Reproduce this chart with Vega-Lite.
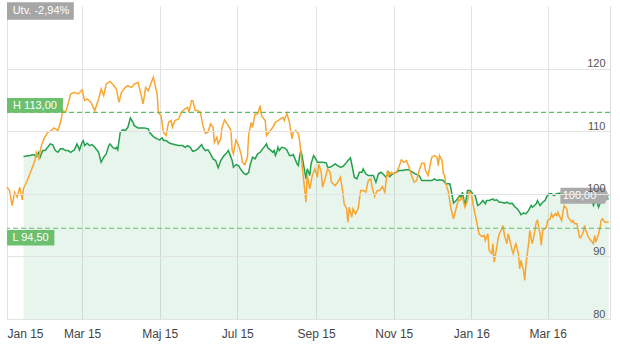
{
  "$schema": "https://vega.github.io/schema/vega-lite/v6.json",
  "width": 603,
  "height": 313,
  "autosize": {"type": "none"},
  "padding": {"left": 7, "top": 6, "right": 10, "bottom": 31},
  "background": "white",
  "config": {"font": "Liberation Sans", "view": {"stroke": null}},
  "datasets": {
    "index": [
      {"d":"2015-01-01","v":101.05},{"d":"2015-01-03","v":100.53},{"d":"2015-01-05","v":98.13},{"d":"2015-01-07","v":100.26},{"d":"2015-01-09","v":99.46},{"d":"2015-01-11","v":101.05},{"d":"2015-01-13","v":99.04},{"d":"2015-01-14","v":100.85},{"d":"2015-01-17","v":102.12},{"d":"2015-01-20","v":103.72},{"d":"2015-01-23","v":105.31},{"d":"2015-01-24","v":106.63},{"d":"2015-01-26","v":105.63},{"d":"2015-01-28","v":107.70},{"d":"2015-01-30","v":108.77},
      {"d":"2015-02-02","v":109.82},{"d":"2015-02-05","v":110.10},{"d":"2015-02-07","v":110.53},{"d":"2015-02-10","v":110.10},{"d":"2015-02-12","v":111.42},{"d":"2015-02-14","v":113.29},{"d":"2015-02-16","v":113.01},{"d":"2015-02-18","v":114.35},{"d":"2015-02-20","v":115.95},{"d":"2015-02-23","v":116.20},{"d":"2015-02-26","v":115.95},
      {"d":"2015-03-01","v":116.59},{"d":"2015-03-03","v":114.88},{"d":"2015-03-05","v":115.15},{"d":"2015-03-08","v":114.61},{"d":"2015-03-11","v":113.29},{"d":"2015-03-14","v":115.15},{"d":"2015-03-16","v":116.75},{"d":"2015-03-18","v":115.68},{"d":"2015-03-20","v":117.54},{"d":"2015-03-23","v":117.96},{"d":"2015-03-26","v":117.27},{"d":"2015-03-28","v":116.75},{"d":"2015-03-30","v":114.61},
      {"d":"2015-04-01","v":116.20},{"d":"2015-04-04","v":117.00},{"d":"2015-04-06","v":117.27},{"d":"2015-04-09","v":117.00},{"d":"2015-04-11","v":117.54},{"d":"2015-04-14","v":117.80},{"d":"2015-04-15","v":117.00},{"d":"2015-04-18","v":114.35},{"d":"2015-04-20","v":117.00},{"d":"2015-04-22","v":116.47},{"d":"2015-04-25","v":118.07},{"d":"2015-04-26","v":118.63},{"d":"2015-04-29","v":115.95},{"d":"2015-04-30","v":112.97},
      {"d":"2015-05-02","v":112.49},{"d":"2015-05-04","v":109.82},{"d":"2015-05-06","v":109.30},{"d":"2015-05-08","v":111.42},{"d":"2015-05-10","v":111.69},{"d":"2015-05-11","v":110.62},{"d":"2015-05-13","v":111.69},{"d":"2015-05-16","v":111.96},{"d":"2015-05-18","v":113.01},{"d":"2015-05-21","v":113.56},{"d":"2015-05-23","v":113.81},{"d":"2015-05-24","v":113.01},{"d":"2015-05-26","v":114.88},{"d":"2015-05-27","v":114.88},{"d":"2015-05-29","v":113.29},{"d":"2015-05-31","v":113.29},
      {"d":"2015-06-02","v":113.01},{"d":"2015-06-04","v":110.89},{"d":"2015-06-06","v":109.67},{"d":"2015-06-08","v":109.82},{"d":"2015-06-10","v":111.16},{"d":"2015-06-12","v":110.62},{"d":"2015-06-13","v":108.23},{"d":"2015-06-15","v":109.03},{"d":"2015-06-16","v":107.97},{"d":"2015-06-18","v":108.77},{"d":"2015-06-19","v":110.62},{"d":"2015-06-21","v":111.80},{"d":"2015-06-23","v":111.16},{"d":"2015-06-24","v":110.89},{"d":"2015-06-26","v":110.10},{"d":"2015-06-27","v":106.91},{"d":"2015-06-28","v":106.38},{"d":"2015-06-30","v":108.61},
      {"d":"2015-07-02","v":107.70},{"d":"2015-07-04","v":106.38},{"d":"2015-07-05","v":105.04},{"d":"2015-07-07","v":104.67},{"d":"2015-07-09","v":105.84},{"d":"2015-07-10","v":109.57},{"d":"2015-07-12","v":111.42},{"d":"2015-07-13","v":110.62},{"d":"2015-07-15","v":112.76},{"d":"2015-07-17","v":112.76},{"d":"2015-07-19","v":114.08},{"d":"2015-07-20","v":112.49},{"d":"2015-07-23","v":111.69},{"d":"2015-07-24","v":109.30},{"d":"2015-07-27","v":110.10},{"d":"2015-07-29","v":110.62},{"d":"2015-07-31","v":111.42},
      {"d":"2015-08-02","v":111.69},{"d":"2015-08-04","v":111.96},{"d":"2015-08-06","v":112.22},{"d":"2015-08-07","v":111.69},{"d":"2015-08-09","v":112.85},{"d":"2015-08-11","v":111.42},{"d":"2015-08-13","v":108.77},{"d":"2015-08-14","v":109.82},{"d":"2015-08-16","v":110.10},{"d":"2015-08-18","v":109.57},{"d":"2015-08-19","v":108.50},{"d":"2015-08-20","v":106.50},{"d":"2015-08-21","v":104.50},{"d":"2015-08-24","v":98.66},{"d":"2015-08-25","v":103.00},{"d":"2015-08-27","v":100.80},{"d":"2015-08-29","v":102.92},{"d":"2015-08-31","v":103.99},
      {"d":"2015-09-02","v":102.65},{"d":"2015-09-03","v":104.78},{"d":"2015-09-05","v":103.44},{"d":"2015-09-06","v":101.05},{"d":"2015-09-08","v":102.39},{"d":"2015-09-10","v":103.99},{"d":"2015-09-12","v":103.44},{"d":"2015-09-13","v":101.85},{"d":"2015-09-16","v":101.32},{"d":"2015-09-18","v":101.85},{"d":"2015-09-20","v":102.65},{"d":"2015-09-22","v":100.26},{"d":"2015-09-23","v":98.41},{"d":"2015-09-25","v":97.61},{"d":"2015-09-26","v":95.47},{"d":"2015-09-27","v":97.86},{"d":"2015-09-29","v":96.27},{"d":"2015-09-30","v":97.61},
      {"d":"2015-10-02","v":96.81},{"d":"2015-10-04","v":97.61},{"d":"2015-10-06","v":100.53},{"d":"2015-10-08","v":100.53},{"d":"2015-10-10","v":100.26},{"d":"2015-10-12","v":102.12},{"d":"2015-10-14","v":102.39},{"d":"2015-10-15","v":101.05},{"d":"2015-10-17","v":99.57},{"d":"2015-10-19","v":100.53},{"d":"2015-10-21","v":100.53},{"d":"2015-10-23","v":101.16},{"d":"2015-10-25","v":100.26},{"d":"2015-10-27","v":103.72},{"d":"2015-10-28","v":102.92},{"d":"2015-10-30","v":103.44},
      {"d":"2015-11-01","v":103.19},{"d":"2015-11-03","v":103.44},{"d":"2015-11-05","v":104.24},{"d":"2015-11-07","v":105.42},{"d":"2015-11-09","v":105.04},{"d":"2015-11-11","v":105.31},{"d":"2015-11-13","v":104.24},{"d":"2015-11-15","v":102.92},{"d":"2015-11-17","v":101.85},{"d":"2015-11-19","v":102.12},{"d":"2015-11-21","v":103.72},{"d":"2015-11-23","v":104.88},{"d":"2015-11-25","v":104.88},{"d":"2015-11-26","v":103.72},{"d":"2015-11-28","v":102.92},{"d":"2015-11-30","v":105.04},
      {"d":"2015-12-01","v":105.84},{"d":"2015-12-03","v":106.11},{"d":"2015-12-05","v":105.84},{"d":"2015-12-06","v":104.51},{"d":"2015-12-07","v":106.11},{"d":"2015-12-09","v":105.31},{"d":"2015-12-10","v":103.19},{"d":"2015-12-11","v":102.92},{"d":"2015-12-12","v":101.59},{"d":"2015-12-14","v":100.26},{"d":"2015-12-15","v":98.93},{"d":"2015-12-16","v":97.61},{"d":"2015-12-18","v":96.01},{"d":"2015-12-20","v":97.61},{"d":"2015-12-22","v":99.20},{"d":"2015-12-23","v":98.93},{"d":"2015-12-25","v":99.46},{"d":"2015-12-27","v":97.86},{"d":"2015-12-29","v":98.93},{"d":"2015-12-30","v":100.26},
      {"d":"2016-01-01","v":100.00},{"d":"2016-01-03","v":97.61},{"d":"2016-01-05","v":95.74},{"d":"2016-01-07","v":93.62},{"d":"2016-01-09","v":93.19},{"d":"2016-01-11","v":93.35},{"d":"2016-01-12","v":92.55},{"d":"2016-01-14","v":93.62},{"d":"2016-01-15","v":90.96},{"d":"2016-01-17","v":90.43},{"d":"2016-01-18","v":92.03},{"d":"2016-01-19","v":89.09},{"d":"2016-01-21","v":91.48},{"d":"2016-01-22","v":92.82},{"d":"2016-01-23","v":93.62},{"d":"2016-01-25","v":94.42},{"d":"2016-01-26","v":94.94},{"d":"2016-01-27","v":93.35},{"d":"2016-01-29","v":92.03},{"d":"2016-01-30","v":93.62},{"d":"2016-01-31","v":92.82},
      {"d":"2016-02-02","v":90.96},{"d":"2016-02-03","v":90.43},{"d":"2016-02-04","v":91.48},{"d":"2016-02-05","v":92.03},{"d":"2016-02-07","v":90.43},{"d":"2016-02-08","v":88.04},{"d":"2016-02-09","v":89.36},{"d":"2016-02-11","v":87.77},{"d":"2016-02-12","v":86.17},{"d":"2016-02-13","v":88.84},{"d":"2016-02-15","v":92.03},{"d":"2016-02-16","v":94.15},{"d":"2016-02-17","v":92.82},{"d":"2016-02-18","v":92.03},{"d":"2016-02-20","v":94.15},{"d":"2016-02-21","v":95.47},{"d":"2016-02-22","v":95.74},{"d":"2016-02-24","v":93.62},{"d":"2016-02-25","v":91.75},{"d":"2016-02-26","v":94.15},{"d":"2016-02-28","v":94.42},{"d":"2016-02-29","v":94.67},
      {"d":"2016-03-01","v":95.74},{"d":"2016-03-03","v":96.01},{"d":"2016-03-04","v":96.81},{"d":"2016-03-05","v":96.27},{"d":"2016-03-07","v":96.81},{"d":"2016-03-08","v":96.54},{"d":"2016-03-09","v":97.07},{"d":"2016-03-10","v":96.54},{"d":"2016-03-12","v":95.74},{"d":"2016-03-13","v":97.07},{"d":"2016-03-14","v":98.13},{"d":"2016-03-16","v":97.61},{"d":"2016-03-17","v":96.27},{"d":"2016-03-18","v":96.01},{"d":"2016-03-20","v":95.47},{"d":"2016-03-21","v":95.74},{"d":"2016-03-22","v":95.22},{"d":"2016-03-24","v":95.22},{"d":"2016-03-25","v":94.15},{"d":"2016-03-26","v":93.08},{"d":"2016-03-27","v":92.98},{"d":"2016-03-29","v":93.88},{"d":"2016-03-30","v":94.94},{"d":"2016-03-31","v":94.15},
      {"d":"2016-04-02","v":93.08},{"d":"2016-04-03","v":92.82},{"d":"2016-04-04","v":92.55},{"d":"2016-04-06","v":92.03},{"d":"2016-04-07","v":93.35},{"d":"2016-04-08","v":92.28},{"d":"2016-04-10","v":93.62},{"d":"2016-04-11","v":94.42},{"d":"2016-04-12","v":95.74},{"d":"2016-04-13","v":96.01},{"d":"2016-04-15","v":95.47},{"d":"2016-04-16","v":95.47},{"d":"2016-04-18","v":95.47}
    ],
    "fund": [
      {"d":"2015-01-14","v":105.95},{"d":"2015-01-19","v":106.11},{"d":"2015-01-22","v":106.27},{"d":"2015-01-24","v":105.95},{"d":"2015-01-26","v":106.63},{"d":"2015-01-27","v":105.84},{"d":"2015-01-29","v":106.91},{"d":"2015-01-31","v":106.91},
      {"d":"2015-02-02","v":107.43},{"d":"2015-02-04","v":107.97},{"d":"2015-02-06","v":107.81},{"d":"2015-02-08","v":106.91},{"d":"2015-02-10","v":106.63},{"d":"2015-02-12","v":107.18},{"d":"2015-02-14","v":107.18},{"d":"2015-02-16","v":106.91},{"d":"2015-02-18","v":106.91},{"d":"2015-02-20","v":106.63},{"d":"2015-02-22","v":106.91},{"d":"2015-02-23","v":107.02},{"d":"2015-02-25","v":107.97},{"d":"2015-02-27","v":107.02},
      {"d":"2015-03-01","v":108.23},{"d":"2015-03-02","v":108.50},{"d":"2015-03-03","v":107.70},{"d":"2015-03-05","v":108.07},{"d":"2015-03-07","v":107.70},{"d":"2015-03-09","v":107.86},{"d":"2015-03-11","v":107.43},{"d":"2015-03-13","v":106.91},{"d":"2015-03-14","v":106.63},{"d":"2015-03-16","v":105.04},{"d":"2015-03-18","v":105.84},{"d":"2015-03-20","v":106.38},{"d":"2015-03-22","v":107.70},{"d":"2015-03-23","v":107.97},{"d":"2015-03-25","v":107.43},{"d":"2015-03-27","v":107.18},{"d":"2015-03-28","v":107.43},{"d":"2015-03-29","v":107.02},{"d":"2015-03-31","v":109.82},
      {"d":"2015-04-02","v":110.21},{"d":"2015-04-04","v":110.10},{"d":"2015-04-06","v":110.62},{"d":"2015-04-08","v":112.12},{"d":"2015-04-10","v":111.42},{"d":"2015-04-11","v":110.89},{"d":"2015-04-14","v":110.53},{"d":"2015-04-17","v":110.53},{"d":"2015-04-19","v":110.53},{"d":"2015-04-22","v":110.37},{"d":"2015-04-23","v":109.82},{"d":"2015-04-26","v":109.14},{"d":"2015-04-29","v":108.77},
      {"d":"2015-05-01","v":108.61},{"d":"2015-05-03","v":108.93},{"d":"2015-05-04","v":108.50},{"d":"2015-05-06","v":108.50},{"d":"2015-05-09","v":108.07},{"d":"2015-05-11","v":107.97},{"d":"2015-05-14","v":107.81},{"d":"2015-05-16","v":107.70},{"d":"2015-05-19","v":107.70},{"d":"2015-05-21","v":107.43},{"d":"2015-05-23","v":107.70},{"d":"2015-05-25","v":107.43},{"d":"2015-05-27","v":106.79},{"d":"2015-05-29","v":106.91},{"d":"2015-05-31","v":107.18},
      {"d":"2015-06-03","v":107.86},{"d":"2015-06-04","v":107.34},{"d":"2015-06-06","v":106.91},{"d":"2015-06-08","v":107.02},{"d":"2015-06-10","v":106.38},{"d":"2015-06-12","v":105.58},{"d":"2015-06-14","v":105.31},{"d":"2015-06-16","v":104.15},{"d":"2015-06-18","v":105.31},{"d":"2015-06-20","v":105.95},{"d":"2015-06-22","v":106.38},{"d":"2015-06-24","v":106.91},{"d":"2015-06-25","v":106.38},{"d":"2015-06-27","v":105.31},{"d":"2015-06-28","v":104.24},{"d":"2015-06-30","v":104.67},
      {"d":"2015-07-02","v":104.51},{"d":"2015-07-04","v":103.83},{"d":"2015-07-06","v":103.29},{"d":"2015-07-08","v":103.08},{"d":"2015-07-10","v":103.44},{"d":"2015-07-11","v":104.51},{"d":"2015-07-13","v":105.84},{"d":"2015-07-15","v":105.58},{"d":"2015-07-17","v":106.38},{"d":"2015-07-19","v":106.63},{"d":"2015-07-21","v":107.18},{"d":"2015-07-23","v":107.70},{"d":"2015-07-24","v":107.97},{"d":"2015-07-25","v":107.34},{"d":"2015-07-27","v":107.02},{"d":"2015-07-29","v":106.63},{"d":"2015-07-30","v":106.91},{"d":"2015-07-31","v":106.11},
      {"d":"2015-08-01","v":106.63},{"d":"2015-08-02","v":107.43},{"d":"2015-08-03","v":106.91},{"d":"2015-08-05","v":107.43},{"d":"2015-08-07","v":107.34},{"d":"2015-08-09","v":107.02},{"d":"2015-08-11","v":106.11},{"d":"2015-08-13","v":106.11},{"d":"2015-08-14","v":106.27},{"d":"2015-08-17","v":104.78},{"d":"2015-08-18","v":104.51},{"d":"2015-08-19","v":106.00},{"d":"2015-08-20","v":106.91},{"d":"2015-08-21","v":106.00},{"d":"2015-08-24","v":102.39},{"d":"2015-08-25","v":103.99},{"d":"2015-08-27","v":102.92},{"d":"2015-08-28","v":104.78},{"d":"2015-08-30","v":106.11},{"d":"2015-08-31","v":105.84},
      {"d":"2015-09-02","v":105.04},{"d":"2015-09-04","v":105.04},{"d":"2015-09-06","v":105.04},{"d":"2015-09-09","v":104.94},{"d":"2015-09-10","v":104.24},{"d":"2015-09-12","v":104.24},{"d":"2015-09-14","v":104.51},{"d":"2015-09-16","v":104.78},{"d":"2015-09-18","v":104.51},{"d":"2015-09-20","v":104.24},{"d":"2015-09-22","v":104.35},{"d":"2015-09-24","v":104.78},{"d":"2015-09-26","v":105.31},{"d":"2015-09-28","v":105.74},{"d":"2015-09-30","v":103.72},
      {"d":"2015-10-01","v":102.65},{"d":"2015-10-03","v":102.39},{"d":"2015-10-05","v":103.44},{"d":"2015-10-07","v":103.44},{"d":"2015-10-08","v":103.99},{"d":"2015-10-10","v":103.19},{"d":"2015-10-12","v":102.92},{"d":"2015-10-14","v":102.92},{"d":"2015-10-16","v":102.92},{"d":"2015-10-18","v":101.85},{"d":"2015-10-20","v":103.19},{"d":"2015-10-22","v":103.44},{"d":"2015-10-24","v":103.08},{"d":"2015-10-26","v":102.65},{"d":"2015-10-28","v":103.44},{"d":"2015-10-29","v":102.76},{"d":"2015-10-31","v":103.19},
      {"d":"2015-11-03","v":103.44},{"d":"2015-11-05","v":103.72},{"d":"2015-11-08","v":103.72},{"d":"2015-11-10","v":103.83},{"d":"2015-11-13","v":103.83},{"d":"2015-11-16","v":103.44},{"d":"2015-11-18","v":103.19},{"d":"2015-11-21","v":102.92},{"d":"2015-11-23","v":102.12},{"d":"2015-11-25","v":102.12},{"d":"2015-11-27","v":102.12},{"d":"2015-11-29","v":102.12},
      {"d":"2015-12-01","v":102.12},{"d":"2015-12-03","v":102.39},{"d":"2015-12-05","v":102.12},{"d":"2015-12-07","v":102.23},{"d":"2015-12-10","v":102.12},{"d":"2015-12-12","v":101.59},{"d":"2015-12-15","v":101.59},{"d":"2015-12-16","v":100.80},{"d":"2015-12-18","v":98.53},{"d":"2015-12-20","v":98.93},{"d":"2015-12-22","v":99.46},{"d":"2015-12-23","v":99.73},{"d":"2015-12-24","v":99.46},{"d":"2015-12-25","v":100.26},{"d":"2015-12-27","v":98.13},{"d":"2015-12-28","v":99.20},{"d":"2015-12-29","v":100.53},{"d":"2015-12-31","v":100.53},
      {"d":"2016-01-01","v":100.26},{"d":"2016-01-02","v":100.00},{"d":"2016-01-04","v":99.73},{"d":"2016-01-06","v":98.13},{"d":"2016-01-08","v":98.41},{"d":"2016-01-10","v":98.93},{"d":"2016-01-12","v":98.41},{"d":"2016-01-13","v":98.93},{"d":"2016-01-15","v":98.93},{"d":"2016-01-18","v":99.20},{"d":"2016-01-19","v":98.93},{"d":"2016-01-21","v":99.04},{"d":"2016-01-23","v":98.66},{"d":"2016-01-25","v":98.66},{"d":"2016-01-27","v":98.50},{"d":"2016-01-29","v":98.66},{"d":"2016-01-31","v":98.41},
      {"d":"2016-02-02","v":98.50},{"d":"2016-02-04","v":97.97},{"d":"2016-02-06","v":97.61},{"d":"2016-02-08","v":97.07},{"d":"2016-02-09","v":96.65},{"d":"2016-02-11","v":96.91},{"d":"2016-02-13","v":96.81},{"d":"2016-02-15","v":97.34},{"d":"2016-02-17","v":98.13},{"d":"2016-02-18","v":97.86},{"d":"2016-02-21","v":98.41},{"d":"2016-02-22","v":98.93},{"d":"2016-02-24","v":98.13},{"d":"2016-02-26","v":98.66},{"d":"2016-02-28","v":98.93},{"d":"2016-02-29","v":99.46},
      {"d":"2016-03-02","v":100.00},{"d":"2016-03-04","v":100.00},{"d":"2016-03-06","v":99.73},{"d":"2016-03-08","v":100.00},{"d":"2016-03-14","v":100.20},{"d":"2016-03-22","v":99.90},{"d":"2016-03-30","v":100.10},
      {"d":"2016-04-04","v":99.50},{"d":"2016-04-06","v":98.13},{"d":"2016-04-08","v":99.20},{"d":"2016-04-10","v":97.86},{"d":"2016-04-12","v":98.93},{"d":"2016-04-15","v":99.20},{"d":"2016-04-18","v":99.20}
    ],
    "one": [{}]
  },
  "layer": [
    {
      "data": {"name": "fund"},
      "mark": {"type": "area", "color": "#1f9a48", "opacity": 0.1},
      "encoding": {
        "x": {
          "field": "d", "type": "temporal",
          "scale": {"type": "utc", "domain": [{"year": 2015, "month": 1, "date": 1, "utc": true}, {"year": 2016, "month": 4, "date": 19, "utc": true}]},
          "axis": {
            "title": null,
            "values": [
              {"year": 2015, "month": 1, "date": 1, "utc": true},
              {"year": 2015, "month": 3, "date": 1, "utc": true},
              {"year": 2015, "month": 5, "date": 1, "utc": true},
              {"year": 2015, "month": 7, "date": 1, "utc": true},
              {"year": 2015, "month": 9, "date": 1, "utc": true},
              {"year": 2015, "month": 11, "date": 1, "utc": true},
              {"year": 2016, "month": 1, "date": 1, "utc": true},
              {"year": 2016, "month": 3, "date": 1, "utc": true}
            ],
            "labelExpr": "['Jan','Feb','Mar','Apr','Maj','Jun','Jul','Aug','Sep','Okt','Nov','Dec'][utcmonth(datum.value)] + ' ' + utcFormat(datum.value, '%y')",
            "ticks": false, "tickSize": 0,
            "labelFontSize": 12, "labelColor": "#444444", "labelPadding": 9,
            "labelFlush": true, "labelOverlap": false,
            "grid": true, "gridColor": "#e3e3e3", "gridWidth": 1,
            "domainColor": "#d3dae3", "domainWidth": 1
          }
        },
        "y": {
          "field": "v", "type": "quantitative",
          "scale": {"domain": [80, 130], "nice": false, "zero": false},
          "axis": {
            "title": null, "orient": "right",
            "values": [80, 90, 100, 110, 120],
            "ticks": false, "tickSize": 0,
            "labelAlign": "right", "labelPadding": -5, "labelBaseline": "alphabetic", "labelOffset": -2,
            "labelFontSize": 11, "labelColor": "#555555",
            "grid": true, "gridColor": "#e3e3e3", "gridWidth": 1,
            "domainColor": "#dddddd", "zindex": 1
          }
        },
        "y2": {"datum": 80}
      }
    },
    {
      "data": {"name": "fund"},
      "mark": {"type": "line", "color": "#23a04c", "strokeWidth": 1.5},
      "encoding": {"x": {"field": "d", "type": "temporal"}, "y": {"field": "v", "type": "quantitative"}}
    },
    {
      "data": {"name": "index"},
      "mark": {"type": "line", "color": "#f9a630", "strokeWidth": 1.5},
      "encoding": {"x": {"field": "d", "type": "temporal"}, "y": {"field": "v", "type": "quantitative"}}
    },
    {
      "data": {"name": "one"},
      "mark": {"type": "rule", "color": "#5cbf62", "strokeWidth": 1.2, "strokeDash": [5, 3]},
      "encoding": {"y": {"datum": 113}}
    },
    {
      "data": {"name": "one"},
      "mark": {"type": "rule", "color": "#5cbf62", "strokeWidth": 1.2, "strokeDash": [5, 3]},
      "encoding": {"y": {"datum": 94.5}}
    },
    {
      "data": {"name": "one"},
      "mark": {"type": "rect", "color": "#a6a6a6"},
      "encoding": {
        "x": {"datum": {"year": 2015, "month": 1, "date": 1, "utc": true}, "type": "temporal"},
        "x2": {"datum": {"year": 2015, "month": 2, "date": 22, "hours": 12, "utc": true}},
        "y": {"datum": 130.6}, "y2": {"datum": 127.8}
      }
    },
    {
      "data": {"name": "one"},
      "mark": {"type": "text", "text": "Utv. -2,94%", "color": "white", "fontSize": 11, "align": "center", "baseline": "middle"},
      "encoding": {
        "x": {"datum": {"year": 2015, "month": 1, "date": 27, "hours": 17, "utc": true}, "type": "temporal"},
        "y": {"datum": 129.2}
      }
    },
    {
      "data": {"name": "one"},
      "mark": {"type": "rect", "color": "#6cbf6c"},
      "encoding": {
        "x": {"datum": {"year": 2015, "month": 1, "date": 1, "utc": true}, "type": "temporal"},
        "x2": {"datum": {"year": 2015, "month": 2, "date": 14, "utc": true}},
        "y": {"datum": 115.3}, "y2": {"datum": 112.95}
      }
    },
    {
      "data": {"name": "one"},
      "mark": {"type": "text", "text": "H 113,00", "color": "white", "fontSize": 11, "align": "center", "baseline": "middle"},
      "encoding": {
        "x": {"datum": {"year": 2015, "month": 1, "date": 23, "utc": true}, "type": "temporal"},
        "y": {"datum": 114.1}
      }
    },
    {
      "data": {"name": "one"},
      "mark": {"type": "rect", "color": "#6cbf6c"},
      "encoding": {
        "x": {"datum": {"year": 2015, "month": 1, "date": 1, "utc": true}, "type": "temporal"},
        "x2": {"datum": {"year": 2015, "month": 2, "date": 7, "hours": 5, "utc": true}},
        "y": {"datum": 94.2}, "y2": {"datum": 91.75}
      }
    },
    {
      "data": {"name": "one"},
      "mark": {"type": "text", "text": "L 94,50", "color": "white", "fontSize": 11, "align": "center", "baseline": "middle"},
      "encoding": {
        "x": {"datum": {"year": 2015, "month": 1, "date": 19, "hours": 12, "utc": true}, "type": "temporal"},
        "y": {"datum": 92.95}
      }
    },
    {
      "data": {"name": "one"},
      "mark": {"type": "rect", "color": "#ababab"},
      "encoding": {
        "x": {"datum": {"year": 2016, "month": 3, "date": 11, "utc": true}, "type": "temporal"},
        "x2": {"datum": {"year": 2016, "month": 4, "date": 15, "utc": true}},
        "y": {"datum": 100.96}, "y2": {"datum": 98.41}
      }
    },
    {
      "data": {"name": "one"},
      "mark": {"type": "point", "shape": "M0,-1L0.5,0L0,1Z", "size": 256, "filled": true, "color": "#ababab", "opacity": 1},
      "encoding": {
        "x": {"datum": {"year": 2016, "month": 4, "date": 15, "utc": true}, "type": "temporal"},
        "y": {"datum": 99.68}
      }
    },
    {
      "data": {"name": "one"},
      "mark": {"type": "text", "text": "100,00", "color": "white", "fontSize": 11, "align": "center", "baseline": "middle"},
      "encoding": {
        "x": {"datum": {"year": 2016, "month": 3, "date": 26, "utc": true}, "type": "temporal"},
        "y": {"datum": 99.68}
      }
    }
  ]
}
